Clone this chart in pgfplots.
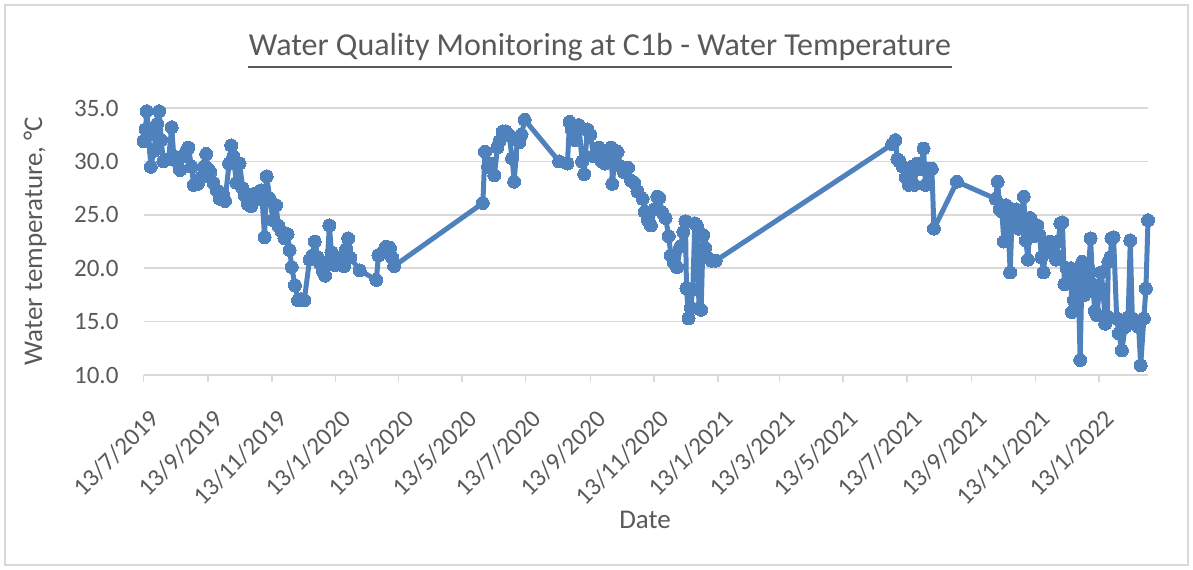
\documentclass[border=0pt]{standalone}
\usepackage{pgfplots}
\pgfplotsset{compat=1.18}
\usepackage{fontspec}
\setmainfont{Carlito}
\definecolor{txtgrey}{HTML}{595959}
\definecolor{gridgrey}{HTML}{D9D9D9}
\definecolor{serblue}{RGB}{79,129,189}
\pgfplotstableread{
d v
0 31.9
2 33.0
3 34.7
5 32.5
7 29.5
10 31.0
13 33.5
15 34.7
17 32.0
19 30.0
24 30.2
27 33.2
29 30.5
32 30.0
35 29.2
38 30.5
41 31.0
43 31.3
46 29.5
48 27.8
52 27.9
55 28.5
58 29.5
60 30.7
62 29.3
64 29.0
67 28.0
70 27.3
73 26.5
76 27.0
78 26.3
82 29.8
84 31.5
86 30.5
89 28.0
92 29.8
95 27.5
97 26.8
100 26.0
103 25.8
107 27.0
110 26.5
113 27.3
116 22.9
118 28.6
121 26.5
124 24.5
127 25.9
129 24.0
132 23.5
135 22.8
138 23.2
140 21.7
142 20.1
145 18.4
148 17.0
151 17.1
154 17.0
159 20.8
162 21.2
164 22.5
167 21.0
170 20.3
172 19.7
174 19.3
176 20.5
178 24.0
180 21.5
183 20.3
186 21.0
189 20.7
192 20.2
194 21.8
196 22.8
198 21.0
207 19.8
223 18.9
225 21.2
229 21.5
232 22.0
236 21.9
238 21.0
240 20.2
325 26.1
327 30.9
330 29.5
333 29.8
336 28.7
339 31.3
341 31.9
344 32.8
347 32.8
350 32.5
353 30.3
355 28.1
358 32.0
360 31.8
362 32.5
365 33.9
398 30.0
406 29.8
408 33.7
410 33.0
413 32.0
417 33.4
420 30.0
422 28.8
425 33.0
428 32.5
431 30.5
434 31.0
436 31.3
439 30.0
442 29.8
445 31.0
448 31.3
449 27.9
452 30.7
454 30.9
457 29.5
460 29.0
464 29.4
467 28.2
470 28.0
473 27.2
478 26.5
480 25.3
483 24.5
486 24.0
489 25.5
492 26.7
494 26.6
497 25.2
500 24.7
503 23.0
505 21.2
508 20.5
511 20.1
514 22.0
517 23.4
519 24.4
520 18.1
522 15.3
524 16.3
526 18.0
528 24.2
530 24.0
532 16.2
534 16.1
536 23.1
538 21.9
540 21.0
544 20.7
548 20.7
717 31.6
720 32.0
722 30.2
724 30.0
727 29.5
730 28.5
733 27.8
736 29.5
738 27.8
741 29.8
744 29.3
747 31.2
749 27.8
752 29.3
755 29.3
757 23.7
779 28.1
816 26.5
818 28.1
820 25.5
822 25.3
824 22.5
826 25.9
828 24.0
830 19.6
832 25.3
834 24.0
836 25.5
838 23.7
840 24.2
843 26.7
845 22.6
847 20.8
849 24.7
851 23.9
853 23.0
856 24.0
858 23.1
860 21.0
862 19.6
864 22.2
866 21.5
868 22.5
870 22.3
872 21.4
874 20.8
876 22.5
878 24.2
880 24.3
882 18.5
884 20.0
886 19.5
888 20.0
889 15.9
891 17.0
893 18.5
895 19.5
897 11.4
899 20.6
901 17.5
903 18.0
905 20.0
907 22.8
909 18.5
911 16.0
913 15.6
915 17.5
917 19.6
919 18.0
921 14.8
923 15.5
924 20.6
926 21.0
927 22.8
929 22.9
932 15.3
934 13.9
937 12.3
940 14.5
943 15.4
945 22.6
947 15.3
950 15.0
953 14.5
955 10.9
958 15.3
960 18.1
962 24.5
}\temps
\begin{document}
\begin{tikzpicture}
\path[use as bounding box] (0,0) rectangle (596.5pt,284.5pt);
\draw[gridgrey, line width=0.75pt] (2.5pt,2pt) rectangle (594pt,282pt);
\begin{axis}[
  at={(71.75pt,97pt)}, anchor=south west,
  scale only axis, width=502.25pt, height=133.5pt,
  xmin=0, xmax=962, ymin=10, ymax=35,
  clip=false,
  axis lines*=left,
  y axis line style={draw=none},
  x axis line style={draw=gridgrey, line width=0.75pt, -},
  ytick={10,15,20,25,30,35},
  ytick style={draw=none},
  xtick={0,62,123,184,244,305,366,428,489,550,609,670,731,793,854,915},
  xticklabels={13/7/2019,13/9/2019,13/11/2019,13/1/2020,13/3/2020,13/5/2020,13/7/2020,13/9/2020,13/11/2020,13/1/2021,13/3/2021,13/5/2021,13/7/2021,13/9/2021,13/11/2021,13/1/2022},
  xtick style={draw=gridgrey, line width=0.75pt},
  tick align=outside,
  major tick length=3.5pt,
  ymajorgrids,
  grid style={draw=gridgrey, line width=0.75pt},
  /pgf/number format/assume math mode=true,
  yticklabel style={/pgf/number format/.cd, fixed, fixed zerofill, precision=1, /tikz/.cd, font=\fontsize{12.5pt}{14pt}\selectfont, text=txtgrey, anchor=east, xshift=-5.5pt},
  xticklabel style={xshift=2.2pt, yshift=-13pt, rotate=45, anchor=north east, inner sep=0pt, font=\fontsize{12.5pt}{14pt}\selectfont, text=txtgrey},
]
\addplot[color=serblue, line width=2.5pt, line join=round, line cap=round, mark=*, mark size=3.25pt, mark options={fill=serblue, draw=serblue, line width=0pt}] table[x=d, y=v] {\temps};
\end{axis}
\node[text=txtgrey, font=\fontsize{16pt}{19pt}\selectfont, inner sep=0pt] (T) at (300pt,261pt) {Water Quality Monitoring at C1b - Water Temperature};
\draw[txtgrey, line width=0.8pt] ([yshift=-3pt]T.south west) -- ([yshift=-3pt]T.south east);
\node[text=txtgrey, font=\fontsize{13.5pt}{16pt}\selectfont, rotate=90] at (17.5pt,164pt) {Water temperature, °C};
\node[text=txtgrey, font=\fontsize{13.5pt}{16pt}\selectfont] at (322.5pt,24.5pt) {Date};
\end{tikzpicture}
\end{document}
